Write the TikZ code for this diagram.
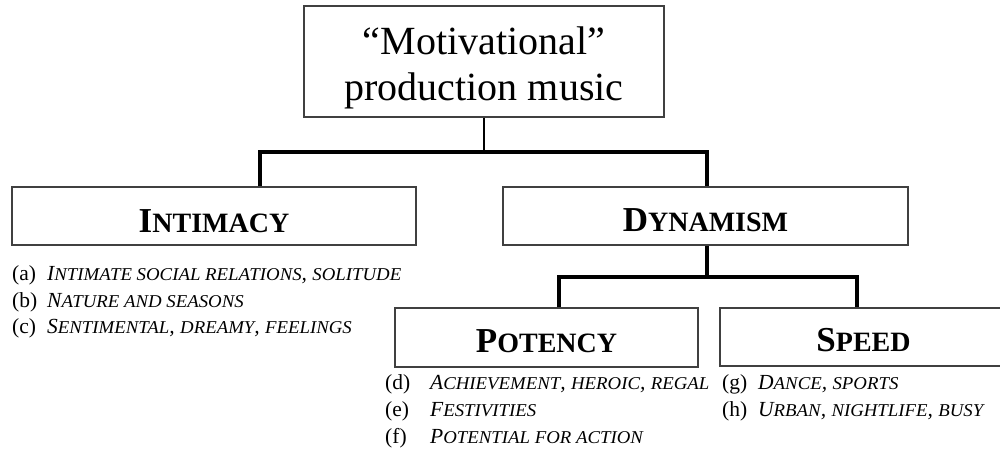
\documentclass[tikz,border=0pt]{standalone}
\usepackage{fontspec}
\setmainfont{Liberation Serif}
\newcommand\ssc[1]{\scalebox{0.8}{#1}}
\newcommand\isc[1]{\scalebox{0.875}[0.84]{#1}}
\tikzset{
  box/.style={draw=black!75, line width=1.5pt, inner sep=0pt, rectangle},
  conn/.style={draw=black, line width=3.3pt, line join=miter},
  title/.style={font=\fontsize{40}{45}\selectfont, inner sep=0pt},
  head/.style={font=\fontsize{35}{40}\selectfont\bfseries, inner sep=0pt},
  itm/.style={font=\fontsize{21.5}{24}\selectfont, inner sep=0pt}
}
\begin{document}
\begin{tikzpicture}[x=1pt,y=-1pt]
\useasboundingbox (0,0) rectangle (1000,460);
\clip (0,0) rectangle (1000,460);
% boxes
\node[box, minimum width=360pt, minimum height=111pt] (top) at (484,61.5) {};
\node[box, minimum width=404pt, minimum height=58pt] (int) at (214,216) {};
\node[box, minimum width=405pt, minimum height=58pt] (dyn) at (705.5,216) {};
\node[box, minimum width=303pt, minimum height=59pt] (pot) at (546.5,337.5) {};
\node[box, minimum width=287pt, minimum height=58pt] (spd) at (863.5,337) {};
% titles
\node[title, anchor=base] (t1) at (484,55) {“Motivational”};
\node[title, anchor=base] (t2) at (484,100) {production music};
\node[head, anchor=base] (intT) at (214,232) {I\ssc{NTIMACY}};
\node[head, anchor=base] (dynT) at (705.5,231) {D\ssc{YNAMISM}};
\node[head, anchor=base] (potT) at (546.5,352) {P\ssc{OTENCY}};
\node[head, anchor=base] (spdT) at (863.5,351) {S\ssc{PEED}};
% connectors
\coordinate (j0) at (484,152);
\coordinate (jL) at (260,152);
\coordinate (jR) at (707,152);
\draw[conn, line width=2.6pt] (top.south) -- (j0);
\draw[conn] (int.north -| jL) -- (jL) -- (jR) -- (dyn.north -| jR);
\coordinate (k0) at (707,277);
\coordinate (kL) at (559,277);
\coordinate (kR) at (857,277);
\draw[conn] (dyn.south -| k0) -- (k0);
\draw[conn] (pot.north -| kL) -- (kL) -- (kR) -- (spd.north -| kR);
% items
\node[itm, anchor=base west] (ia) at (12,280) {\makebox[35pt][l]{(a)}\textit{I\isc{NTIMATE SOCIAL RELATIONS}, \isc{SOLITUDE}}};
\node[itm, anchor=base west] (ib) at (12,307) {\makebox[35pt][l]{(b)}\textit{N\isc{ATURE AND SEASONS}}};
\node[itm, anchor=base west] (ic) at (12,333) {\makebox[35pt][l]{(c)}\textit{S\isc{ENTIMENTAL}, \isc{DREAMY}, \isc{FEELINGS}}};
\node[itm, anchor=base west] (id) at (385,389) {\makebox[45pt][l]{(d)}\textit{A\isc{CHIEVEMENT}, \isc{HEROIC}, \isc{REGAL}}};
\node[itm, anchor=base west] (ie) at (385,416) {\makebox[45pt][l]{(e)}\textit{F\isc{ESTIVITIES}}};
\node[itm, anchor=base west] (if) at (385,443) {\makebox[45pt][l]{(f)}\textit{P\isc{OTENTIAL FOR ACTION}}};
\node[itm, anchor=base west] (ig) at (722,389) {\makebox[36pt][l]{(g)}\textit{D\isc{ANCE}, \isc{SPORTS}}};
\node[itm, anchor=base west] (ih) at (722,416) {\makebox[36pt][l]{(h)}\textit{U\isc{RBAN}, \isc{NIGHTLIFE}, \isc{BUSY}}};
\end{tikzpicture}
\end{document}
